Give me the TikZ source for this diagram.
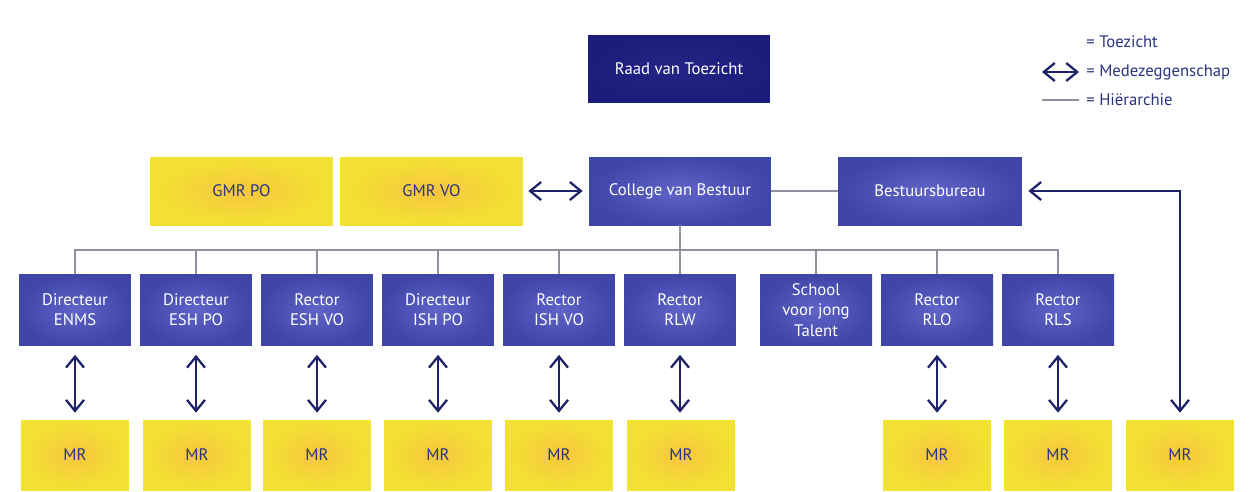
\documentclass[tikz,border=0pt]{standalone}
\usepackage{fontspec}
\setmainfont{PT Sans}
\usetikzlibrary{arrows.meta}
\definecolor{navy}{HTML}{1E2266}
\definecolor{txtnavy}{HTML}{2B3480}
\definecolor{raad}{HTML}{1C1C7A}
\definecolor{raadedge}{HTML}{2A2A90}
\definecolor{bluein}{HTML}{6064C8}
\definecolor{blueout}{HTML}{4045A8}
\definecolor{yelin}{HTML}{F6C63E}
\definecolor{yelout}{HTML}{F3E233}
\definecolor{hier}{HTML}{8C919C}
\tikzset{
  raadbox/.style={inner color=raadedge!60!raad, outer color=raad, minimum width=3.64cm, minimum height=1.36cm, text=white, font=\fontsize{9.5}{12}\selectfont, align=center},
  bluebox/.style={inner color=bluein, outer color=blueout, text=white, font=\fontsize{9.5}{11.5}\selectfont, align=center},
  bigblue/.style={bluebox, minimum width=3.64cm, minimum height=1.36cm},
  smallblue/.style={bluebox, minimum width=2.24cm, minimum height=1.42cm},
  yelbox/.style={inner color=yelin, outer color=yelout, text=txtnavy, font=\fontsize{9.5}{12}\selectfont, align=center},
  gmrbox/.style={yelbox, minimum width=3.66cm, minimum height=1.36cm},
  mrbox/.style={yelbox, minimum width=2.16cm, minimum height=1.40cm},
  hline/.style={draw=hier, line width=1.1pt},
  medez/.style={draw=navy, line width=1.3pt, {Straight Barb[length=2.2mm,width=3.6mm,line width=1.3pt]}-{Straight Barb[length=2.2mm,width=3.6mm,line width=1.3pt]}},
  legtext/.style={text=txtnavy, font=\fontsize{9.5}{12}\selectfont, anchor=west, inner sep=0pt}
}
\begin{document}
\begin{tikzpicture}[x=0.02cm,y=-0.02cm]
\useasboundingbox (0,0) rectangle (1254,491);
% top
\node[raadbox] (raad) at (679,69) {Raad van Toezicht};
\node[gmrbox] (gmrpo) at (241.5,191) {GMR PO};
\node[gmrbox] (gmrvo) at (431.5,191) {GMR VO};
\node[bigblue] (cvb) at (680,191) {College van Bestuur};
\node[bigblue, minimum width=3.68cm] (bb) at (930,191) {Bestuursbureau};
% row
\node[smallblue] (d1) at (75,310) {Directeur\\ENMS};
\node[smallblue] (d2) at (196,310) {Directeur\\ESH PO};
\node[smallblue] (d3) at (317,310) {Rector\\ESH VO};
\node[smallblue] (d4) at (438,310) {Directeur\\ISH PO};
\node[smallblue] (d5) at (559,310) {Rector\\ISH VO};
\node[smallblue] (d6) at (680,310) {Rector\\RLW};
\node[smallblue] (d7) at (816,310) {School\\voor jong\\Talent};
\node[smallblue] (d8) at (937,310) {Rector\\RLO};
\node[smallblue] (d9) at (1058,310) {Rector\\RLS};
% MR
\node[mrbox] (m1) at (75,455) {MR};
\node[mrbox] (m2) at (197,455) {MR};
\node[mrbox] (m3) at (317,455) {MR};
\node[mrbox] (m4) at (438,455) {MR};
\node[mrbox] (m5) at (559,455) {MR};
\node[mrbox] (m6) at (681,455) {MR};
\node[mrbox] (m8) at (937,455) {MR};
\node[mrbox] (m9) at (1058,455) {MR};
\node[mrbox] (m10) at (1180,455) {MR};
% hierarchy
\coordinate (hub) at (680,250);
\draw[hline] (cvb.south) -- (hub);
\foreach \b in {d1,d2,d3,d4,d5,d6,d7,d8,d9} {\draw[hline] (hub) -| (\b.north);}
\draw[hline] (cvb.east) -- (bb.west);
% medezeggenschap
\draw[medez, shorten <=0.1cm, shorten >=0.12cm] (gmrvo.east) -- (cvb.west);
\foreach \a/\m in {d1/m1,d2/m2,d3/m3,d4/m4,d5/m5,d6/m6,d8/m8,d9/m9} {\draw[medez, shorten <=0.18cm, shorten >=0.14cm] (\a.south) -- (\a.south |- \m.north);}
\draw[medez, shorten <=0.12cm, shorten >=0.14cm] (bb.east) -| (m10.north);
% legend
\node[legtext] (lt) at (1086,42) {= Toezicht};
\node[legtext] (lm) at (1086,72) {= Medezeggenschap};
\node[legtext] (lh) at (1086,100) {= Hiërarchie};
\coordinate (la1) at (1042,72);
\coordinate (la2) at (1079,72);
\coordinate (lh1) at (1042,100);
\coordinate (lh2) at (1079,100);
\draw[medez] (la1) -- (la2);
\draw[hline] (lh1) -- (lh2);
\end{tikzpicture}
\end{document}
